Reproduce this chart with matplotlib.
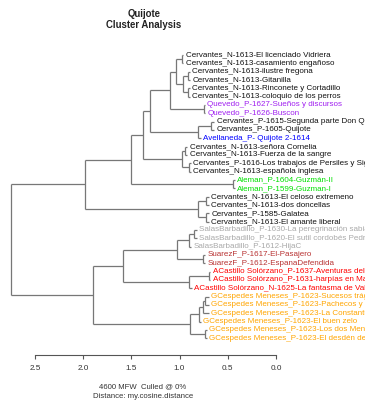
import matplotlib
matplotlib.use("Agg")
import matplotlib.pyplot as plt

plt.rcParams['font.family'] = ['Liberation Sans', 'DejaVu Sans']

# ---- data ----
leaf_labels = [
    "Cervantes_N-1613-El licenciado Vidriera",
    "Cervantes_N-1613-casamiento engañoso",
    "Cervantes_N-1613-ilustre fregona",
    "Cervantes_N-1613-Gitanilla",
    "Cervantes_N-1613-Rinconete y Cortadillo",
    "Cervantes_N-1613-coloquio de los perros",
    "Quevedo_P-1627-Sueños y discursos",
    "Quevedo_P-1626-Buscon",
    "Cervantes_P-1615-Segunda parte Don Quijote",
    "Cervantes_P-1605-Quijote",
    "Avellaneda_P- Quijote 2-1614",
    "Cervantes_N-1613-señora Cornelia",
    "Cervantes_N-1613-Fuerza de la sangre",
    "Cervantes_P-1616-Los trabajos de Persiles y Sigismunda",
    "Cervantes_N-1613-española inglesa",
    "Aleman_P-1604-Guzmán-II",
    "Aleman_P-1599-Guzman-I",
    "Cervantes_N-1613-El celoso extremeno",
    "Cervantes_N-1613-dos doncellas",
    "Cervantes_P-1585-Galatea",
    "Cervantes_N-1613-El amante liberal",
    "SalasBarbadillo_P-1630-La peregrinación sabia",
    "SalasBarbadillo_P-1620-El sutil cordobés Pedro de Urdemalas",
    "SalasBarbadillo_P-1612-HijaC",
    "SuarezF_P-1617-El-Pasajero",
    "SuarezF_P-1612-EspanaDefendida",
    "ACastillo Solórzano_P-1637-Aventuras del Bachiller Trapaza",
    "ACastillo Solórzano_P-1631-harpías en Madrid",
    "ACastillo Solórzano_N-1625-La fantasma de Valencia",
    "GCespedes Meneses_P-1623-Sucesos trágicos",
    "GCespedes Meneses_P-1623-Pachecos y Palominos",
    "GCespedes Meneses_P-1623-La Constantina",
    "GCespedes Meneses_P-1623-El buen zelo",
    "GCespedes Meneses_P-1623-Los dos Mendozas",
    "GCespedes Meneses_P-1623-El desdén del alameda",
]

# terminal tip heights (distance units)
tip_heights = [0.96, 0.96, 0.89, 0.89, 0.89, 0.89, 0.735, 0.735, 0.64, 0.64,
               0.78, 0.92, 0.92, 0.88, 0.88, 0.425, 0.425, 0.695, 0.695, 0.695,
               0.695, 0.82, 0.82, 0.88, 0.735, 0.735, 0.68, 0.68, 0.87, 0.70,
               0.70, 0.70, 0.78, 0.72, 0.72]

# merges like R hclust: negative = leaf (1-based), positive = earlier merge (1-based)
merge_a = [-1, -3, -5, 2, 1, -7, 5, -9, 8, 7, -12, -14, 11, 10, -16, 14, -18, -20, 17, 16,
           -22, 21, -25, 22, -27, 25, 24, -30, 28, 29, -34, 30, 27, 20]
merge_b = [-2, -4, -6, 3, 4, -8, 6, -10, -11, 9, -13, -15, 12, 13, -17, 15, -19, -21, 18, 19,
           -23, -24, -26, 23, -28, -29, 26, -31, -32, -33, -35, 31, 32, 33]
merge_h = [0.98, 0.91, 0.91, 0.96, 1.04, 0.75, 1.10, 0.67, 0.81, 1.31, 0.94, 0.90, 0.97, 1.38,
           0.45, 1.50, 0.73, 0.73, 0.81, 1.98, 0.85, 0.90, 0.76, 1.03, 0.70, 0.90, 1.59, 0.74,
           0.76, 0.80, 0.74, 0.89, 1.90, 2.75]

author_colors = {
    "Cervantes": "#111111",
    "Quevedo": "#A020F0",
    "Avellaneda": "#0000FF",
    "Aleman": "#00E000",
    "SalasBarbadillo": "#A9A9A9",
    "SuarezF": "#B83232",
    "ACastillo Solórzano": "#FF0000",
    "GCespedes Meneses": "#FFA500",
}

axis_ticks = [2.5, 2.0, 1.5, 1.0, 0.5, 0.0]
title_lines = ["Quijote", "Cluster Analysis"]
subtitle_lines = ["4600 MFW  Culled @ 0%", "Distance: my.cosine.distance"]

# ---- figure ----
W, H = 365, 401
fig = plt.figure(figsize=(W / 100, H / 100), dpi=100)
n = len(leaf_labels)
top_px, bot_px = 50, 355
left_px, right_px = 35, 276
ax = fig.add_axes([left_px / W, 1 - bot_px / H, (right_px - left_px) / W, (bot_px - top_px) / H])
y_top = (top_px - 55) / 8.33
y_bot = (bot_px - 55) / 8.33
ax.set_xlim(2.5, 0.0)
ax.set_ylim(y_bot, y_top)

line_col = "#777777"
lw = 0.9

pos = {}
for i in range(n):
    pos[-(i + 1)] = (tip_heights[i], float(i))

for k, (a, b, h) in enumerate(zip(merge_a, merge_b, merge_h)):
    xa, ya = pos[a]
    xb, yb = pos[b]
    ax.plot([h, h], [ya, yb], color=line_col, lw=lw, clip_on=False, solid_capstyle='butt')
    ax.plot([h, xa], [ya, ya], color=line_col, lw=lw, clip_on=False, solid_capstyle='butt')
    ax.plot([h, xb], [yb, yb], color=line_col, lw=lw, clip_on=False, solid_capstyle='butt')
    pos[k + 1] = (h, (ya + yb) / 2)

for i, lab in enumerate(leaf_labels):
    author = lab.split("_")[0]
    ax.annotate(lab, (tip_heights[i], i), xytext=(1.6, 0), textcoords='offset points',
                ha='left', va='center', fontsize=5.75, color=author_colors[author],
                annotation_clip=False)

for s in ['top', 'right', 'left']:
    ax.spines[s].set_visible(False)
ax.spines['bottom'].set_color('#555555')
ax.spines['bottom'].set_linewidth(0.8)
ax.set_yticks([])
ax.set_xticks(axis_ticks)
ax.set_xticklabels([f"{t:.1f}" for t in axis_ticks])
ax.tick_params(axis='x', direction='out', length=3, width=0.8, color='#555555',
               labelsize=5.9, labelcolor='#333333', pad=4)
ax.patch.set_alpha(0)

fig.text(144 / W, 1 - 14 / H, title_lines[0], ha='center', va='center',
         fontsize=6.9, fontweight='bold', color='#222222')
fig.text(144 / W, 1 - 25 / H, title_lines[1], ha='center', va='center',
         fontsize=6.9, fontweight='bold', color='#222222')
fig.text(143 / W, 1 - 387 / H, subtitle_lines[0], ha='center', va='center',
         fontsize=5.6, color='#333333')
fig.text(143 / W, 1 - 397 / H, subtitle_lines[1], ha='center', va='center',
         fontsize=5.6, color='#333333')

fig.savefig("out.png", dpi=100)
